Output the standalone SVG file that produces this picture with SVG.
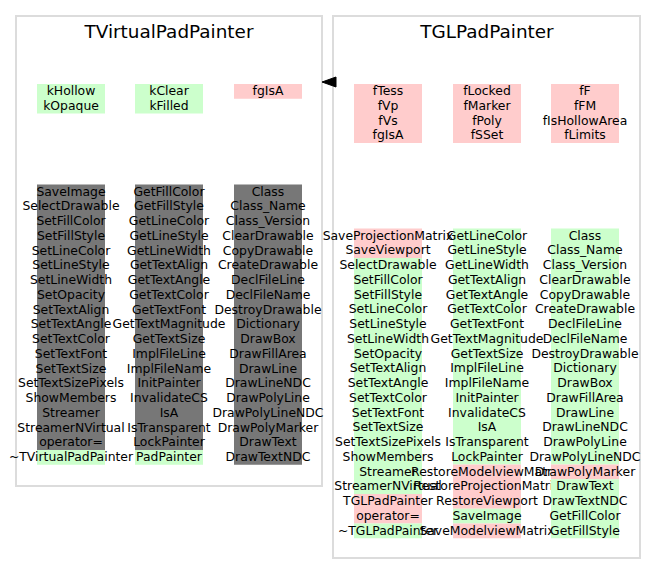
<svg xmlns="http://www.w3.org/2000/svg" width="656" height="585" viewBox="0 0 656 585">
<style>
text{font-family:"DejaVu Sans","Noto Sans",sans-serif;font-size:12.4px;fill:#000;text-anchor:middle}
.title{font-size:18.4px}
.panel{fill:#fff;stroke:#dcdcdc;stroke-width:2}
.g{fill:#ccffcc}
.p{fill:#ffcccc}
.k{fill:#777777}
</style>
<rect width="656" height="585" fill="#fff"/>
<g id="TVirtualPadPainter">
<rect class="panel" x="16" y="16" width="306" height="470"/>
<text class="title" x="169" y="37.5">TVirtualPadPainter</text>
</g>
<g id="TVirtualPadPainter_enums1">
<rect class="g" x="37" y="84" width="68" height="29.5"/>
<text x="71" y="95">kHollow</text>
<text x="71" y="109.75">kOpaque</text>
</g>
<g id="TVirtualPadPainter_enums2">
<rect class="g" x="135" y="84" width="68" height="29.5"/>
<text x="169" y="95">kClear</text>
<text x="169" y="109.75">kFilled</text>
</g>
<g id="TVirtualPadPainter_fields">
<rect class="p" x="234" y="84" width="68" height="14.75"/>
<text x="268" y="95">fgIsA</text>
</g>
<g id="TVirtualPadPainter_methods1">
<rect class="k" x="37" y="184.5" width="68" height="265.5"/>
<rect class="g" x="37" y="450" width="68" height="14.75"/>
<text x="71" y="195.5">SaveImage</text>
<text x="71" y="210.25">SelectDrawable</text>
<text x="71" y="225">SetFillColor</text>
<text x="71" y="239.75">SetFillStyle</text>
<text x="71" y="254.5">SetLineColor</text>
<text x="71" y="269.25">SetLineStyle</text>
<text x="71" y="284">SetLineWidth</text>
<text x="71" y="298.75">SetOpacity</text>
<text x="71" y="313.5">SetTextAlign</text>
<text x="71" y="328.25">SetTextAngle</text>
<text x="71" y="343">SetTextColor</text>
<text x="71" y="357.75">SetTextFont</text>
<text x="71" y="372.5">SetTextSize</text>
<text x="71" y="387.25">SetTextSizePixels</text>
<text x="71" y="402">ShowMembers</text>
<text x="71" y="416.75">Streamer</text>
<text x="71" y="431.5">StreamerNVirtual</text>
<text x="71" y="446.25">operator=</text>
<text x="71" y="461">~TVirtualPadPainter</text>
</g>
<g id="TVirtualPadPainter_methods2">
<rect class="k" x="135" y="184.5" width="68" height="265.5"/>
<rect class="g" x="135" y="450" width="68" height="14.75"/>
<text x="169" y="195.5">GetFillColor</text>
<text x="169" y="210.25">GetFillStyle</text>
<text x="169" y="225">GetLineColor</text>
<text x="169" y="239.75">GetLineStyle</text>
<text x="169" y="254.5">GetLineWidth</text>
<text x="169" y="269.25">GetTextAlign</text>
<text x="169" y="284">GetTextAngle</text>
<text x="169" y="298.75">GetTextColor</text>
<text x="169" y="313.5">GetTextFont</text>
<text x="169" y="328.25">GetTextMagnitude</text>
<text x="169" y="343">GetTextSize</text>
<text x="169" y="357.75">ImplFileLine</text>
<text x="169" y="372.5">ImplFileName</text>
<text x="169" y="387.25">InitPainter</text>
<text x="169" y="402">InvalidateCS</text>
<text x="169" y="416.75">IsA</text>
<text x="169" y="431.5">IsTransparent</text>
<text x="169" y="446.25">LockPainter</text>
<text x="169" y="461">PadPainter</text>
</g>
<g id="TVirtualPadPainter_methods3">
<rect class="k" x="234" y="184.5" width="68" height="280.25"/>
<text x="268" y="195.5">Class</text>
<text x="268" y="210.25">Class_Name</text>
<text x="268" y="225">Class_Version</text>
<text x="268" y="239.75">ClearDrawable</text>
<text x="268" y="254.5">CopyDrawable</text>
<text x="268" y="269.25">CreateDrawable</text>
<text x="268" y="284">DeclFileLine</text>
<text x="268" y="298.75">DeclFileName</text>
<text x="268" y="313.5">DestroyDrawable</text>
<text x="268" y="328.25">Dictionary</text>
<text x="268" y="343">DrawBox</text>
<text x="268" y="357.75">DrawFillArea</text>
<text x="268" y="372.5">DrawLine</text>
<text x="268" y="387.25">DrawLineNDC</text>
<text x="268" y="402">DrawPolyLine</text>
<text x="268" y="416.75">DrawPolyLineNDC</text>
<text x="268" y="431.5">DrawPolyMarker</text>
<text x="268" y="446.25">DrawText</text>
<text x="268" y="461">DrawTextNDC</text>
</g>
<g id="TGLPadPainter">
<rect class="panel" x="333" y="16" width="307" height="542"/>
<text class="title" x="487" y="37.5">TGLPadPainter</text>
</g>
<g id="TGLPadPainter_fields1">
<rect class="p" x="354" y="84" width="68" height="59"/>
<text x="388" y="95">fTess</text>
<text x="388" y="109.75">fVp</text>
<text x="388" y="124.5">fVs</text>
<text x="388" y="139.25">fgIsA</text>
</g>
<g id="TGLPadPainter_fields2">
<rect class="p" x="453" y="84" width="68" height="59"/>
<text x="487" y="95">fLocked</text>
<text x="487" y="109.75">fMarker</text>
<text x="487" y="124.5">fPoly</text>
<text x="487" y="139.25">fSSet</text>
</g>
<g id="TGLPadPainter_fields3">
<rect class="p" x="551" y="84" width="68" height="59"/>
<text x="585" y="95">fF</text>
<text x="585" y="109.75">fFM</text>
<text x="585" y="124.5">fIsHollowArea</text>
<text x="585" y="139.25">fLimits</text>
</g>
<g id="TGLPadPainter_methods1">
<rect class="p" x="354" y="228.5" width="68" height="29.5"/>
<rect class="g" x="354" y="258" width="68" height="236"/>
<rect class="p" x="354" y="494" width="68" height="29.5"/>
<rect class="g" x="354" y="523.5" width="68" height="14.75"/>
<text x="388" y="239.5">SaveProjectionMatrix</text>
<text x="388" y="254.25">SaveViewport</text>
<text x="388" y="269">SelectDrawable</text>
<text x="388" y="283.75">SetFillColor</text>
<text x="388" y="298.5">SetFillStyle</text>
<text x="388" y="313.25">SetLineColor</text>
<text x="388" y="328">SetLineStyle</text>
<text x="388" y="342.75">SetLineWidth</text>
<text x="388" y="357.5">SetOpacity</text>
<text x="388" y="372.25">SetTextAlign</text>
<text x="388" y="387">SetTextAngle</text>
<text x="388" y="401.75">SetTextColor</text>
<text x="388" y="416.5">SetTextFont</text>
<text x="388" y="431.25">SetTextSize</text>
<text x="388" y="446">SetTextSizePixels</text>
<text x="388" y="460.75">ShowMembers</text>
<text x="388" y="475.5">Streamer</text>
<text x="388" y="490.25">StreamerNVirtual</text>
<text x="388" y="505">TGLPadPainter</text>
<text x="388" y="519.75">operator=</text>
<text x="388" y="534.5">~TGLPadPainter</text>
</g>
<g id="TGLPadPainter_methods2">
<rect class="g" x="453" y="228.5" width="68" height="236"/>
<rect class="p" x="453" y="464.5" width="68" height="44.25"/>
<rect class="g" x="453" y="508.75" width="68" height="14.75"/>
<rect class="p" x="453" y="523.5" width="68" height="14.75"/>
<text x="487" y="239.5">GetLineColor</text>
<text x="487" y="254.25">GetLineStyle</text>
<text x="487" y="269">GetLineWidth</text>
<text x="487" y="283.75">GetTextAlign</text>
<text x="487" y="298.5">GetTextAngle</text>
<text x="487" y="313.25">GetTextColor</text>
<text x="487" y="328">GetTextFont</text>
<text x="487" y="342.75">GetTextMagnitude</text>
<text x="487" y="357.5">GetTextSize</text>
<text x="487" y="372.25">ImplFileLine</text>
<text x="487" y="387">ImplFileName</text>
<text x="487" y="401.75">InitPainter</text>
<text x="487" y="416.5">InvalidateCS</text>
<text x="487" y="431.25">IsA</text>
<text x="487" y="446">IsTransparent</text>
<text x="487" y="460.75">LockPainter</text>
<text x="487" y="475.5">RestoreModelviewMatrix</text>
<text x="487" y="490.25">RestoreProjectionMatrix</text>
<text x="487" y="505">RestoreViewport</text>
<text x="487" y="519.75">SaveImage</text>
<text x="487" y="534.5">SaveModelviewMatrix</text>
</g>
<g id="TGLPadPainter_methods3">
<rect class="g" x="551" y="228.5" width="68" height="236"/>
<rect class="p" x="551" y="464.5" width="68" height="14.75"/>
<rect class="g" x="551" y="479.25" width="68" height="59"/>
<text x="585" y="239.5">Class</text>
<text x="585" y="254.25">Class_Name</text>
<text x="585" y="269">Class_Version</text>
<text x="585" y="283.75">ClearDrawable</text>
<text x="585" y="298.5">CopyDrawable</text>
<text x="585" y="313.25">CreateDrawable</text>
<text x="585" y="328">DeclFileLine</text>
<text x="585" y="342.75">DeclFileName</text>
<text x="585" y="357.5">DestroyDrawable</text>
<text x="585" y="372.25">Dictionary</text>
<text x="585" y="387">DrawBox</text>
<text x="585" y="401.75">DrawFillArea</text>
<text x="585" y="416.5">DrawLine</text>
<text x="585" y="431.25">DrawLineNDC</text>
<text x="585" y="446">DrawPolyLine</text>
<text x="585" y="460.75">DrawPolyLineNDC</text>
<text x="585" y="475.5">DrawPolyMarker</text>
<text x="585" y="490.25">DrawText</text>
<text x="585" y="505">DrawTextNDC</text>
<text x="585" y="519.75">GetFillColor</text>
<text x="585" y="534.5">GetFillStyle</text>
</g>
<g id="connectors">
<polygon points="322,82 336,77 336,87" fill="#000" stroke="#000" stroke-width="1"/>
</g>
</svg>
